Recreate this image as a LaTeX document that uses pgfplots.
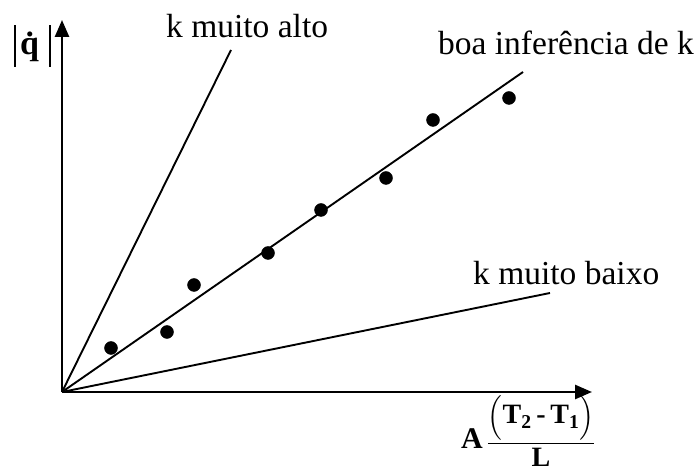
\documentclass[border=0pt]{standalone}
\usepackage{pgfplots}
\pgfplotsset{compat=1.18}
\usepackage{fontspec}
\setmainfont{Liberation Serif}
\usepackage{amsmath}
\usetikzlibrary{arrows.meta}

\begin{document}
\begin{tikzpicture}
\begin{axis}[
  x=1pt, y=1pt,
  xmin=0, xmax=530, ymin=0, ymax=372,
  axis lines=left,
  axis line style={line width=2.6pt, -{Triangle[length=17pt,width=14pt]}},
  xtick=\empty, ytick=\empty,
  clip=false,
]
% measured points
\addplot[only marks, mark=*, mark size=6.5pt, black] coordinates {
  (49,44) (105,60) (132,107) (206,139) (259,182) (324,214) (371,272) (447,294)
};
% fitted line and the two extreme slopes
\addplot[black, line width=1.9pt] coordinates {(0,0) (461,320)};
\addplot[black, line width=1.9pt] coordinates {(0,0) (169,342)};
\addplot[black, line width=1.9pt] coordinates {(0,0) (488,99)};

\node[anchor=base west, font=\fontsize{33.5}{40}\selectfont, inner sep=0pt] at (axis cs:104,354) {k muito alto};
\node[anchor=base west, font=\fontsize{33.5}{40}\selectfont, inner sep=0pt] at (axis cs:376,337) {boa inferência de k};
\node[anchor=base west, font=\fontsize{33.5}{40}\selectfont, inner sep=0pt] at (axis cs:411,107) {k muito baixo};

% |q-dot| label with tall bars
\node[anchor=base west, font=\fontsize{34}{40}\selectfont, inner sep=0pt] at (axis cs:-48,337)
  {\rule[-12pt]{2pt}{42pt}\hspace{4pt}\bfseries\.q\hspace{10pt}\rule[-12pt]{2pt}{42pt}};
\node[anchor=base, font=\fontsize{30}{34}\selectfont, inner sep=0pt] at (axis cs:410,-56) {\bfseries A};
\node[font=\fontsize{28}{32}\selectfont, inner sep=0pt] at (axis cs:479,-39)
  {$\dfrac{\Bigl(\textbf{T}_{\textbf{2}}\textbf{\,-\,}\textbf{T}_{\textbf{1}}\Bigr)}{\textbf{L}}$};
\end{axis}
\useasboundingbox (-62pt,-73pt) rectangle (636pt,392pt);
\end{tikzpicture}
\end{document}
